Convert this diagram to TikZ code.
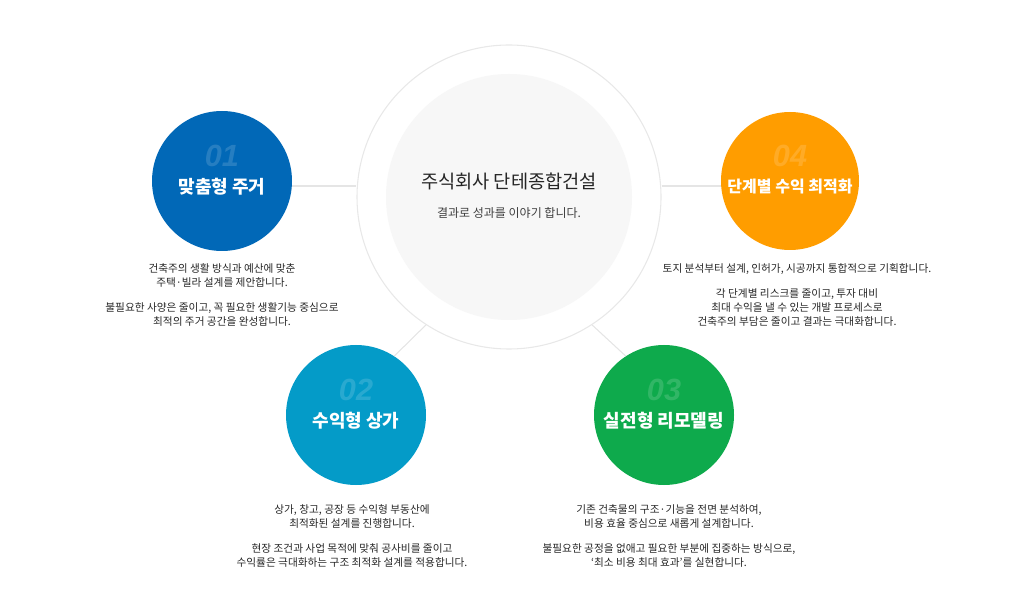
\documentclass[tikz,border=0pt]{standalone}
\usepackage{fontspec}
\setmainfont{Noto Sans CJK KR}
\newfontfamily\numfont{Liberation Sans}
\begin{document}
\begin{tikzpicture}[x=0.75pt,y=-0.75pt,
  ball/.style={circle,minimum size=#1*0.75pt,inner sep=0pt},
  lbl/.style={text=white,font=\fontsize{13.5}{16}\selectfont\bfseries},
  num/.style={font=\numfont\fontsize{23}{23}\selectfont\bfseries\itshape,opacity=0.15,text=white},
  desc/.style={align=center,font=\fontsize{8}{10.5}\selectfont,text=black!85},
  link/.style={draw=black!10,line width=0.8pt}]
\useasboundingbox (0,0) rectangle (1024,591);
\node[ball=304,draw=black!9,line width=0.8pt,fill=white] (outer) at (509,197) {};
\node[ball=246,fill=black!3] (inner) at (509,197) {};
\node[font=\fontsize{14}{16}\selectfont,text=black!85] (title) at (509,181) {주식회사 단테종합건설};
\node[font=\fontsize{9}{11}\selectfont,text=black!75] (sub) at (509,213) {결과로 성과를 이야기 합니다.};
\definecolor{cA}{HTML}{0168B7}\definecolor{cB}{HTML}{049BC8}
\definecolor{cC}{HTML}{0EAA4C}\definecolor{cD}{HTML}{FF9D00}
\node[ball=140,fill=cA] (c1) at (222,181) {};
\node[ball=138,fill=cD] (c4) at (790,181) {};
\node[ball=140,fill=cB] (c2) at (356,415) {};
\node[ball=140,fill=cC] (c3) at (664,415) {};
\draw[link] (c1.east |- 0,186) -- (outer.west |- 0,186);
\draw[link] (outer.east |- 0,186) -- (c4.west |- 0,186);
\draw[link] (c2.57) -- (outer.237);
\draw[link] (outer.303) -- (c3.123);
\foreach \c/\n/\t in {c1/01/맞춤형 주거,c2/02/수익형 상가,c3/03/실전형 리모델링}{
  \node[num] (\c n) at ([yshift=25*0.75pt]\c) {\n};
  \node[lbl] (\c t) at ([yshift=-6*0.75pt]\c) {\t};
}
\node[num] (c4n) at ([yshift=25*0.75pt]c4) {04};
\node[lbl,font=\fontsize{12}{14}\selectfont\bfseries] (c4t) at ([yshift=-6*0.75pt]c4) {단계별 수익 최적화};
\node[desc] (d1) at (222,295) {건축주의 생활 방식과 예산에 맞춘\\주택·빌라 설계를 제안합니다.\\[1.05em]불필요한 사양은 줄이고, 꼭 필요한 생활기능 중심으로\\최적의 주거 공간을 완성합니다.};
\node[desc] (d4) at (797,295) {토지 분석부터 설계, 인허가, 시공까지 통합적으로 기획합니다.\\[1.05em]각 단계별 리스크를 줄이고, 투자 대비\\최대 수익을 낼 수 있는 개발 프로세스로\\건축주의 부담은 줄이고 결과는 극대화합니다.};
\node[desc] (d2) at (352,536) {상가, 창고, 공장 등 수익형 부동산에\\최적화된 설계를 진행합니다.\\[1.05em]현장 조건과 사업 목적에 맞춰 공사비를 줄이고\\수익률은 극대화하는 구조 최적화 설계를 적용합니다.};
\node[desc] (d3) at (669,536) {기존 건축물의 구조·기능을 전면 분석하여,\\비용 효율 중심으로 새롭게 설계합니다.\\[1.05em]불필요한 공정을 없애고 필요한 부분에 집중하는 방식으로,\\‘최소 비용 최대 효과’를 실현합니다.};
\end{tikzpicture}
\end{document}
